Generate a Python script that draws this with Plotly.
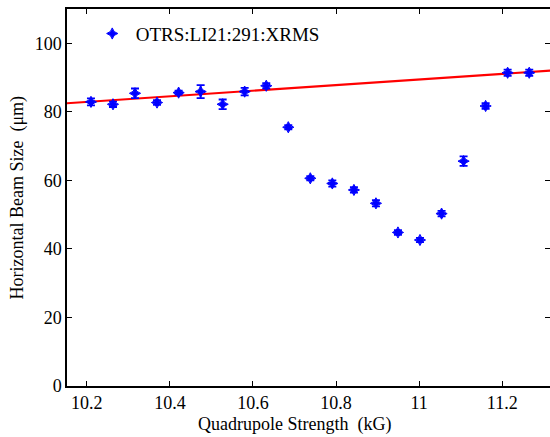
import plotly.graph_objects as go

# Data
quad_kG = [10.210, 10.263, 10.316, 10.369, 10.421, 10.474, 10.527, 10.580, 10.632, 10.685,
           10.738, 10.791, 10.843, 10.896, 10.949, 11.002, 11.054, 11.107, 11.160, 11.213, 11.265]
xrms_um = [82.9, 82.2, 85.4, 82.7, 85.6, 85.9, 82.2, 85.9, 87.6, 75.5,
           60.6, 59.1, 57.2, 53.3, 44.8, 42.6, 50.3, 65.6, 81.7, 91.4, 91.4]
xrms_err = [1.0, 0.8, 1.4, 0.7, 0.6, 1.9, 1.4, 1.1, 0.8, 0.6,
            0.6, 0.9, 0.8, 0.9, 0.7, 0.6, 0.8, 1.4, 0.8, 0.9, 0.9]
fit_x = [10.10, 11.40]
fit_y = [82.07, 92.70]

x_range = [10.1523, 11.315]
y_range = [0, 110]
x_ticks = [10.2, 10.4, 10.6, 10.8, 11.0, 11.2]
x_ticklabels = ["10.2", "10.4", "10.6", "10.8", "11", "11.2"]
y_ticks = [0, 20, 40, 60, 80, 100]

FONT = "Liberation Serif"
BLUE = "#0000FF"
RED = "#FF0000"

fig = go.Figure()
fig.add_trace(go.Scatter(
    x=fit_x, y=fit_y, mode="lines", line=dict(color=RED, width=2.2),
    showlegend=False, hoverinfo="skip"))
fig.add_trace(go.Scatter(
    x=quad_kG, y=xrms_um, mode="markers", name="OTRS:LI21:291:XRMS",
    marker=dict(symbol="star-diamond", size=8, color=BLUE, line=dict(color=BLUE, width=1)),
    error_y=dict(type="data", array=xrms_err, color=BLUE, thickness=1.8, width=4),
    showlegend=True))
# dummy trace to get right-side mirrored ticks without a line
fig.add_trace(go.Scatter(x=[None], y=[None], xaxis="x", yaxis="y2", showlegend=False,
                         hoverinfo="skip"))

fig.update_layout(
    width=550, height=437,
    margin=dict(l=67, r=0, t=9, b=51),
    paper_bgcolor="white", plot_bgcolor="white",
    font=dict(family=FONT, size=18, color="black"),
    showlegend=True,
    legend=dict(x=0.045, y=0.985, xanchor="left", yanchor="top", itemwidth=37,
                bgcolor="rgba(0,0,0,0)", font=dict(size=19, family=FONT)),
    xaxis=dict(range=x_range, tickvals=x_ticks, ticktext=x_ticklabels,
               ticks="inside", ticklen=5, tickwidth=1, tickcolor="black",
               showline=True, linecolor="black", linewidth=1.5, mirror="ticks",
               showgrid=False, zeroline=False,
               tickfont=dict(size=18, family=FONT)),
    yaxis=dict(range=y_range, tickvals=y_ticks,
               ticks="inside", ticklen=5, tickwidth=1, tickcolor="black",
               showline=True, linecolor="black", linewidth=1.5, mirror=False,
               showgrid=False, zeroline=False,
               tickfont=dict(size=18, family=FONT)),
    yaxis2=dict(range=y_range, tickvals=y_ticks, overlaying="y", side="right",
                ticks="inside", ticklen=5, tickwidth=1, tickcolor="black",
                showticklabels=False, showline=False, showgrid=False, zeroline=False),
    annotations=[
        dict(text="Quadrupole Strength\u00a0\u00a0(kG)", xref="paper", yref="paper",
             x=(294 - 67) / 483, y=0, yshift=-38, xanchor="center", yanchor="middle",
             showarrow=False, font=dict(size=18, family=FONT)),
        dict(text="Horizontal Beam Size\u00a0\u00a0(\u03bcm)", xref="paper", yref="paper",
             x=0, xshift=-50, y=0.5, textangle=-90, xanchor="center", yanchor="middle",
             showarrow=False, font=dict(size=18, family=FONT)),
    ],
)

fig.write_html("out.html", config={"displayModeBar": False},
               post_script="document.body.style.margin='0';document.body.style.overflow='hidden';")
